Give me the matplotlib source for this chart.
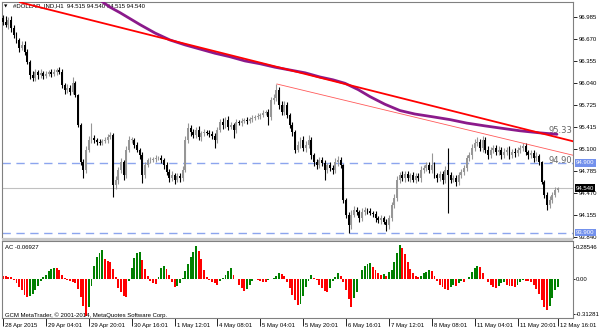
"""DOLLAR_IND H1 chart with AC indicator, MetaTrader style."""
import matplotlib
matplotlib.use("Agg")
import matplotlib.pyplot as plt
import matplotlib.transforms as mtransforms
from matplotlib.patches import Rectangle
import numpy as np

plt.rcParams["font.family"] = ["Liberation Sans", "DejaVu Sans"]

# ---- data ----
first_open = 96.97
closes = [
    96.92, 96.88, 96.95, 96.83, 96.73, 96.66, 96.55, 96.59, 96.49, 96.35,
    96.16, 96.12, 96.20, 96.16, 96.19, 96.15, 96.17, 96.20, 96.17, 96.20,
    96.23, 96.20, 96.02, 95.94, 95.97, 95.92, 96.05, 95.87, 95.44, 94.91,
    94.80, 95.09, 95.23, 95.26, 95.23, 95.20, 95.19, 95.21, 95.23, 95.27,
    95.30, 94.58, 94.66, 94.80, 94.91, 94.73, 95.09, 95.23, 95.23, 95.16,
    95.09, 95.01, 94.73, 94.87, 94.94, 94.94, 94.96, 94.97, 94.97, 94.94,
    94.87, 94.77, 94.68, 94.73, 94.66, 94.71, 94.68, 94.80, 95.23, 95.40,
    95.34, 95.30, 95.37, 95.27, 95.33, 95.34, 95.33, 95.31, 95.29, 95.23,
    95.37, 95.49, 95.44, 95.52, 95.42, 95.44, 95.37, 95.49, 95.47, 95.50,
    95.52, 95.50, 95.53, 95.54, 95.56, 95.57, 95.59, 95.62, 95.63, 95.56,
    95.80, 95.83, 95.94, 95.73, 95.63, 95.73, 95.59, 95.44, 95.34, 95.09,
    95.16, 95.23, 95.11, 95.16, 95.23, 95.01, 94.91, 94.87, 94.94, 94.90,
    94.80, 94.87, 94.83, 94.80, 94.91, 94.94, 94.87, 94.37, 94.16, 94.01,
    94.16, 94.23, 94.20, 94.11, 94.20, 94.23, 94.21, 94.18, 94.17, 94.11,
    94.08, 94.11, 94.06, 94.01, 94.11, 94.30, 94.40, 94.66, 94.73, 94.68,
    94.74, 94.68, 94.73, 94.66, 94.71, 94.68, 94.80, 94.83, 94.87, 94.80,
    94.87, 94.73, 94.68, 94.74, 94.66, 94.80, 94.73, 94.66, 94.68, 94.63,
    94.73, 94.77, 94.83, 94.97, 95.01, 95.11, 95.19, 95.20, 95.11, 95.23,
    95.09, 95.01, 95.09, 95.11, 95.06, 95.09, 95.01, 95.06, 95.09, 95.01,
    95.06, 95.04, 95.09, 95.11, 95.14, 95.06, 95.01, 95.04, 94.97, 95.00,
    94.91, 94.63, 94.44, 94.30, 94.37, 94.44, 94.51, 94.54,
]
up_wick = [
    0.05, 0.08, 0.04, 0.06, 0.04, 0.05, 0.03, 0.06, 0.05, 0.04,
    0.03, 0.05, 0.04, 0.03, 0.05, 0.03, 0.04, 0.03, 0.05, 0.04,
    0.03, 0.04, 0.05, 0.03, 0.06, 0.04, 0.08, 0.03, 0.02, 0.03,
    0.04, 0.05, 0.06, 0.21, 0.04, 0.03, 0.04, 0.03, 0.04, 0.05,
    0.04, 0.03, 0.05, 0.04, 0.06, 0.03, 0.05, 0.06, 0.04, 0.03,
    0.04, 0.03, 0.04, 0.05, 0.03, 0.04, 0.03, 0.04, 0.03, 0.04,
    0.03, 0.05, 0.04, 0.06, 0.03, 0.05, 0.04, 0.05, 0.06, 0.07,
    0.04, 0.05, 0.04, 0.06, 0.03, 0.04, 0.03, 0.04, 0.05, 0.04,
    0.05, 0.04, 0.06, 0.04, 0.05, 0.04, 0.03, 0.04, 0.03, 0.04,
    0.03, 0.04, 0.03, 0.04, 0.03, 0.04, 0.03, 0.04, 0.03, 0.04,
    0.05, 0.06, 0.09, 0.05, 0.06, 0.05, 0.04, 0.03, 0.04, 0.03,
    0.05, 0.04, 0.06, 0.05, 0.07, 0.04, 0.03, 0.05, 0.04, 0.05,
    0.04, 0.03, 0.05, 0.04, 0.06, 0.06, 0.04, 0.02, 0.03, 0.04,
    0.06, 0.05, 0.04, 0.03, 0.05, 0.04, 0.03, 0.04, 0.03, 0.04,
    0.03, 0.04, 0.03, 0.04, 0.05, 0.04, 0.06, 0.05, 0.04, 0.05,
    0.04, 0.05, 0.03, 0.04, 0.05, 0.04, 0.05, 0.04, 0.05, 0.04,
    0.17, 0.04, 0.03, 0.05, 0.04, 0.05, 0.31, 0.04, 0.05, 0.04,
    0.04, 0.05, 0.04, 0.05, 0.04, 0.06, 0.05, 0.07, 0.04, 0.05,
    0.04, 0.05, 0.04, 0.05, 0.04, 0.05, 0.04, 0.05, 0.04, 0.05,
    0.04, 0.05, 0.04, 0.05, 0.05, 0.04, 0.03, 0.05, 0.04, 0.05,
    0.03, 0.02, 0.03, 0.04, 0.05, 0.04, 0.04, 0.01,
]
down_wick = [
    0.05, 0.04, 0.06, 0.05, 0.04, 0.05, 0.06, 0.04, 0.05, 0.04,
    0.06, 0.05, 0.04, 0.06, 0.04, 0.05, 0.04, 0.03, 0.04, 0.03,
    0.04, 0.03, 0.05, 0.06, 0.04, 0.05, 0.04, 0.03, 0.03, 0.04,
    0.12, 0.04, 0.03, 0.04, 0.05, 0.04, 0.03, 0.04, 0.03, 0.04,
    0.03, 0.17, 0.05, 0.06, 0.04, 0.08, 0.04, 0.03, 0.04, 0.05,
    0.04, 0.05, 0.12, 0.04, 0.03, 0.04, 0.03, 0.04, 0.03, 0.04,
    0.05, 0.04, 0.05, 0.04, 0.06, 0.04, 0.05, 0.04, 0.03, 0.04,
    0.05, 0.04, 0.05, 0.04, 0.05, 0.04, 0.03, 0.04, 0.05, 0.12,
    0.04, 0.03, 0.05, 0.04, 0.05, 0.04, 0.11, 0.04, 0.03, 0.04,
    0.03, 0.04, 0.03, 0.04, 0.03, 0.03, 0.04, 0.03, 0.04, 0.12,
    0.04, 0.05, 0.04, 0.06, 0.05, 0.04, 0.05, 0.04, 0.05, 0.05,
    0.04, 0.05, 0.04, 0.05, 0.04, 0.05, 0.06, 0.05, 0.04, 0.05,
    0.14, 0.04, 0.05, 0.06, 0.04, 0.05, 0.04, 0.04, 0.05, 0.11,
    0.05, 0.04, 0.05, 0.06, 0.04, 0.05, 0.04, 0.03, 0.04, 0.05,
    0.04, 0.05, 0.04, 0.08, 0.05, 0.04, 0.05, 0.04, 0.05, 0.04,
    0.05, 0.04, 0.05, 0.04, 0.05, 0.04, 0.05, 0.04, 0.05, 0.04,
    0.05, 0.04, 0.05, 0.04, 0.06, 0.05, 0.55, 0.05, 0.04, 0.06,
    0.04, 0.05, 0.04, 0.05, 0.04, 0.05, 0.04, 0.05, 0.04, 0.05,
    0.05, 0.06, 0.04, 0.05, 0.04, 0.05, 0.06, 0.04, 0.05, 0.06,
    0.04, 0.05, 0.04, 0.05, 0.04, 0.05, 0.06, 0.04, 0.05, 0.04,
    0.04, 0.03, 0.04, 0.07, 0.05, 0.04, 0.03, 0.02,
]
ac_values = [
    0.03, 0.03, 0.02, 0.02, -0.01, -0.04, -0.07, -0.10, -0.14, -0.16,
    -0.15, -0.13, -0.10, -0.06, -0.02, 0.02, 0.04, 0.07, 0.09, 0.10,
    0.095, 0.08, 0.04, 0.01, -0.01, -0.02, -0.03, -0.04, -0.09, -0.16,
    -0.24, -0.33, -0.25, -0.06, 0.12, 0.20, 0.23, 0.26, 0.18, 0.16,
    0.15, 0.09, 0.02, -0.08, -0.12, -0.15, -0.16, -0.02, 0.10, 0.19,
    0.23, 0.24, 0.17, 0.09, 0.03, -0.02, -0.04, -0.045, 0.02, 0.10,
    0.12, 0.09, 0.04, -0.03, -0.07, -0.06, -0.04, 0.01, 0.07, 0.13,
    0.20, 0.24, 0.29, 0.25, 0.18, 0.08, 0.02, -0.01, -0.03, -0.04,
    -0.05, -0.02, 0.01, 0.04, 0.07, 0.10, 0.04, 0.00, -0.05, -0.08,
    -0.11, -0.09, -0.05, -0.02, 0.00, -0.01, -0.02, -0.025, -0.03, -0.01,
    0.00, 0.01, 0.03, 0.05, 0.045, 0.03, -0.03, -0.08, -0.14, -0.19,
    -0.23, -0.22, -0.15, -0.07, -0.02, 0.04, 0.01, -0.01, -0.05, -0.08,
    -0.11, -0.12, -0.08, -0.02, 0.02, 0.05, 0.03, -0.03, -0.10, -0.18,
    -0.25, -0.17, -0.12, 0.00, 0.08, 0.12, 0.13, 0.14, 0.11, 0.08,
    0.05, 0.04, 0.045, 0.03, 0.06, 0.08, 0.15, 0.23, 0.30, 0.28,
    0.22, 0.15, 0.09, 0.05, 0.03, 0.02, 0.03, 0.05, 0.06, 0.08,
    0.07, 0.03, -0.02, -0.05, -0.07, -0.09, -0.10, -0.07, -0.05, -0.06,
    -0.04, -0.02, -0.03, 0.00, 0.02, 0.06, 0.10, 0.12, 0.11, 0.05,
    0.00, -0.03, -0.05, -0.07, -0.08, -0.06, -0.04, -0.03, -0.05, -0.06,
    -0.065, -0.07, -0.05, -0.03, -0.01, -0.015, -0.02, -0.03, -0.05, -0.09,
    -0.13, -0.19, -0.25, -0.28, -0.24, -0.17, -0.10, -0.06927,
]

# moving average (purple) read at points along the curve
ma_x = [36.2, 39.9, 43.7, 51.1, 56.7, 62.3, 67.9, 73.5, 79.1, 84.7,
        90.3, 95.9, 101.5, 107.1, 112.7, 118.3, 123.1, 127.6, 132.5, 136.9,
        142.5, 148.1, 153.7, 160.4, 166.8, 173.1, 179.9, 185.4, 192.9, 200.4,
        206.7]
ma_y = [97.23, 97.13, 97.05, 96.88, 96.76, 96.66, 96.59, 96.53, 96.47, 96.42,
        96.36, 96.32, 96.27, 96.23, 96.19, 96.13, 96.09, 96.04, 95.95, 95.85,
        95.74, 95.65, 95.60, 95.56, 95.52, 95.47, 95.43, 95.40, 95.36, 95.33,
        95.31]

# trend lines (anchor points)
trend_x, trend_y = [6.3, 212.7], [97.20, 95.21]
chan_x, chan_y = [102.2, 212.7], [96.03, 95.01]

level_hi, level_lo = 94.90, 93.90
last_price = 94.54

price_ticks = [96.985, 96.670, 96.355, 96.040, 95.725, 95.415, 95.100,
               94.785, 94.470, 94.155, 93.840]
ac_ticks = [0.28546, 0.0, -0.31281]
ac_tick_labels = ["0.28546", "0.00", "-0.31281"]

time_ticks = [0, 16, 32, 48, 64, 80, 96, 112, 128, 144, 160, 176, 192, 207]
time_labels = ["28 Apr 2015", "29 Apr 04:01", "29 Apr 20:01", "30 Apr 16:01",
               "1 May 12:01", "4 May 08:01", "5 May 04:01", "5 May 20:01",
               "6 May 16:01", "7 May 12:01", "8 May 08:01", "11 May 04:01",
               "11 May 20:01", "12 May 16:01"]

# ---- figure ----
W, H = 600, 333
FS = 4.3
fig = plt.figure(figsize=(W / 100, H / 100), dpi=100)
fig.patch.set_facecolor("white")
ax = fig.add_axes([2 / W, 1 - 238 / H, 571 / W, 236 / H])
ax2 = fig.add_axes([2 / W, 1 - 318 / H, 571 / W, 77 / H])

AXC = "#808080"
XLIM = (-0.4, 212.7)

c = np.array(closes)
o = np.r_[first_open, c[:-1]]
hi = np.maximum(o, c) + np.array(up_wick)
lo = np.minimum(o, c) - np.array(down_wick)
idx = np.arange(len(c))
bull = c >= o
cols = np.where(bull, "#969696", "#000000")

ax.axhline(last_price, color="#c0c0c0", lw=0.8, zorder=1)
for lv in (level_hi, level_lo):
    ax.axhline(lv, color="#8ca5ee", lw=1.0, ls=(0, (6, 4)), zorder=1)

ax.vlines(idx, lo, hi, colors=cols, lw=0.8, zorder=2)
body = np.maximum(np.abs(c - o), 0.008)
ax.bar(idx, body, bottom=np.minimum(o, c), width=0.72, color=cols,
       linewidth=0, zorder=3)

ax.plot(ma_x, ma_y, color="#8b1a8b", lw=2.0, solid_capstyle="round",
        solid_joinstyle="round", zorder=4)
ax.plot(trend_x, trend_y, color="#ff0000", lw=1.3, zorder=5)
ax.plot(chan_x, chan_y, color="#ff5a5a", lw=0.6, zorder=5)

ax.text(203.4, 95.37, "95.33", fontsize=6, color="#666666",
        family="DejaVu Sans", ha="left", va="center")
ax.text(203.4, 94.93, "94.90", fontsize=6, color="#666666",
        family="DejaVu Sans", ha="left", va="center")

ax.set_xlim(*XLIM)
ax.set_ylim(93.825, 97.204)
ax.set_xticks([])
ax.yaxis.tick_right()
ax.set_yticks(price_ticks)
ax.set_yticklabels([f"{p:.3f}" for p in price_ticks])
ax.tick_params(axis="y", length=3, width=0.6, pad=1.2, labelsize=FS,
               color="#000000", labelcolor="#000000")
for s in ax.spines.values():
    s.set_color(AXC)
    s.set_linewidth(0.8)

# price tags on the right scale
tag = mtransforms.blended_transform_factory(ax.transAxes, ax.transData)
for val, fc in ((level_hi, "#7391ec"), (level_lo, "#7391ec"), (last_price, "#000000")):
    ax.text(1.005, val, f"{val:.3f}", transform=tag, fontsize=FS, color="white",
            ha="left", va="center", clip_on=False, zorder=10,
            bbox=dict(boxstyle="square,pad=0.2", fc=fc, ec="none"))

ax.text(0.019, 0.983, "#DOLLAR_IND,H1  94.515 94.540 94.515 94.540",
        transform=ax.transAxes, fontsize=FS, ha="left", va="center")
ax.text(0.004, 0.983, "▼", transform=ax.transAxes, fontsize=3.2,
        ha="left", va="center", family="DejaVu Sans")

# ---- AC indicator ----
ac = np.array(ac_values)
rising = np.r_[False, ac[1:] > ac[:-1]]
ac_cols = np.where(rising, "#008000", "#ff0000")
ax2.bar(idx, ac, width=0.72, color=ac_cols, linewidth=0)
ax2.set_xlim(*XLIM)
ax2.set_ylim(-0.348, 0.339)
ax2.yaxis.tick_right()
ax2.set_yticks(ac_ticks)
ax2.set_yticklabels(ac_tick_labels)
ax2.tick_params(axis="y", length=1.5, width=0.6, pad=0.5, labelsize=FS)
ax2.set_xticks(time_ticks)
ax2.set_xticklabels(time_labels)
ax2.tick_params(axis="x", length=6, width=0.6, pad=-2.5, labelsize=FS)
shift = mtransforms.ScaledTranslation(2 / 100, 0, fig.dpi_scale_trans)
for lab in ax2.get_xticklabels():
    lab.set_horizontalalignment("left")
    lab.set_transform(lab.get_transform() + shift)
for s in ax2.spines.values():
    s.set_color(AXC)
    s.set_linewidth(0.8)

ax2.text(0.006, 0.91, "AC -0.06927", transform=ax2.transAxes, fontsize=FS,
         ha="left", va="center")
ax2.text(0.006, 0.035, "GCM MetaTrader, © 2001-2014, MetaQuotes Software Corp.",
         transform=ax2.transAxes, fontsize=FS, ha="left", va="center")

# splitter between the two panels
fig.patches.append(Rectangle((2 / W, 1 - 241 / H), 571 / W, 3 / H,
                             transform=fig.transFigure, fc="#c8c8c8", ec="none"))

fig.savefig("out.png", dpi=100)
